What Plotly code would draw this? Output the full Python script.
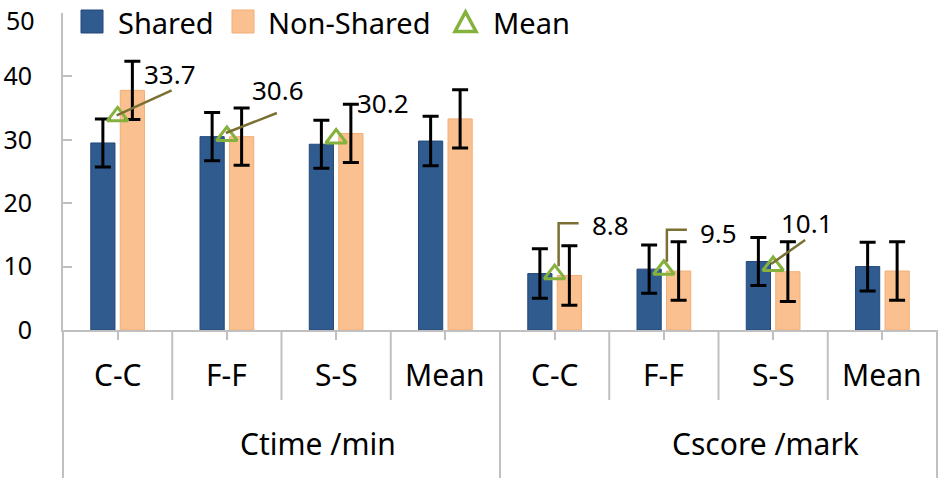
import plotly.graph_objects as go

# ---------------- data ----------------
groups = ["Ctime /min", "Cscore /mark"]
categories = ["C-C", "F-F", "S-S", "Mean", "C-C", "F-F", "S-S", "Mean"]
shared = [29.5, 30.5, 29.3, 29.8, 8.9, 9.6, 10.8, 10.0]
shared_err = [3.8, 3.8, 3.8, 3.9, 3.9, 3.8, 3.8, 3.85]
nonshared = [37.8, 30.5, 31.0, 33.3, 8.6, 9.3, 9.2, 9.3]
nonshared_err = [4.6, 4.5, 4.6, 4.6, 4.7, 4.6, 4.7, 4.6]
mean_vals = [33.7, 30.6, 30.2, None, 8.8, 9.5, 10.1, None]
y_ticks = [0, 10, 20, 30, 40, 50]
legend_names = ["Shared", "Non-Shared", "Mean"]

# ---------------- styling ----------------
W, H = 944, 478
ML, MR, MT, MB = 63, 7, 13, 148
PW = W - ML - MR
PH = H - MT - MB
FONT = "Noto Sans"
BLUE = "#2F5B8F"
BLUE_EDGE = "#24497A"
ORANGE = "#FAC08F"
ORANGE_EDGE = "#F3AE76"
GREEN = "#84B23C"
OLIVE = "#7B7034"
GRAY = "#C0C0C0"


def px_x(px):
    return (px - ML) / PW


def px_y(py):
    return (H - MB - py) / PH


pos = list(range(len(categories)))
n_per_group = len(categories) // len(groups)

# label offsets (pixels) and leader paths (pixel offsets from the mean point, +y up)
label_style = {
    0: dict(dx=52, dy=42, path=[(54, 26), (-1, 1)]),
    1: dict(dx=51, dy=46, path=[(50, 23), (-1, 3)]),
    2: dict(dx=47, dy=36, path=None),
    4: dict(dx=56, dy=49, path=[(4, 8), (4, 51), (24, 51)]),
    5: dict(dx=55, dy=37, path=[(3, 8), (3, 40), (23, 40)]),
    6: dict(dx=34, dy=43, path=[(32, 26), (-2, 2)]),
}

fig = go.Figure()
fig.add_trace(go.Bar(
    x=pos, y=shared, name=legend_names[0],
    marker=dict(color=BLUE, line=dict(color=BLUE_EDGE, width=1)),
    error_y=dict(type="data", array=shared_err, color="black", thickness=3, width=8),
))
fig.add_trace(go.Bar(
    x=pos, y=nonshared, name=legend_names[1],
    marker=dict(color=ORANGE, line=dict(color=ORANGE_EDGE, width=1)),
    error_y=dict(type="data", array=nonshared_err, color="black", thickness=3, width=8),
))
fig.add_trace(go.Scatter(
    x=pos, y=mean_vals, name=legend_names[2], mode="markers",
    marker=dict(symbol="triangle-up-open", size=18, color=GREEN,
                line=dict(width=3, color=GREEN)),
))

shapes = []
annotations = []

# mean value labels and leader lines
for i, v in enumerate(mean_vals):
    if v is None:
        continue
    st = label_style[i]
    annotations.append(dict(
        x=pos[i], y=v, xref="x", yref="y", text=f"{v:.1f}", showarrow=False,
        xshift=st["dx"], yshift=st["dy"], xanchor="center", yanchor="middle",
        font=dict(family=FONT, size=26, color="black"),
    ))
    if st["path"]:
        p = "M " + " L ".join(f"{a},{b}" for a, b in st["path"])
        shapes.append(dict(
            type="path", xref="x", yref="y", xsizemode="pixel", ysizemode="pixel",
            xanchor=pos[i], yanchor=v, path=p, layer="above",
            line=dict(color=OLIVE, width=2.5),
        ))

# category labels
for i, c in enumerate(categories):
    annotations.append(dict(
        x=pos[i], y=px_y(374), xref="x", yref="paper", text=c, showarrow=False,
        xanchor="center", yanchor="middle",
        font=dict(family=FONT, size=30, color="black"),
    ))

# group labels
group_shift = [36, 47]
for g, name in enumerate(groups):
    center = pos[g * n_per_group] + (n_per_group - 1) / 2
    annotations.append(dict(
        x=center, y=px_y(443), xref="x", yref="paper", text=name, showarrow=False,
        xshift=group_shift[g], xanchor="center", yanchor="middle",
        font=dict(family=FONT, size=30, color="black"),
    ))

# dividers in the category axis
for i in range(len(categories) - 1):
    b = pos[i] + 0.5
    is_group = (i + 1) % n_per_group == 0
    shapes.append(dict(
        type="line", xref="x", yref="paper", x0=b, x1=b, y0=0,
        y1=px_y(H) if is_group else px_y(400),
        line=dict(color=GRAY, width=2),
    ))
for xe in (0, 1):
    shapes.append(dict(
        type="line", xref="paper", yref="paper", x0=xe, x1=xe, y0=0, y1=px_y(H),
        line=dict(color=GRAY, width=2),
    ))

# y tick labels: the top one is nudged down inside the figure (as in the reference)
y_ticktext = [str(t) for t in y_ticks]
top_label = y_ticktext[-1]
y_ticktext[-1] = ""
annotations.append(dict(
    x=px_x(37), y=px_y(1), xref="paper", yref="paper", text=top_label,
    showarrow=False, xanchor="right", yanchor="top",
    font=dict(family=FONT, size=25, color="black"),
))

# manual legend
sq_top, sq_bot = 10, 33
shapes.append(dict(type="rect", xref="paper", yref="paper",
                   x0=px_x(81), x1=px_x(103), y0=px_y(sq_bot), y1=px_y(sq_top),
                   fillcolor=BLUE, line=dict(color=BLUE_EDGE, width=1)))
shapes.append(dict(type="rect", xref="paper", yref="paper",
                   x0=px_x(232), x1=px_x(254), y0=px_y(sq_bot), y1=px_y(sq_top),
                   fillcolor=ORANGE, line=dict(color=ORANGE_EDGE, width=1)))
tri = [(455, 31.5), (476, 31.5), (465.5, 12)]
tri_path = "M " + " L ".join(f"{px_x(a)},{px_y(b)}" for a, b in tri) + " Z"
shapes.append(dict(type="path", xref="paper", yref="paper", path=tri_path,
                   line=dict(color=GREEN, width=3.5), fillcolor="rgba(0,0,0,0)"))
for name, left in zip(legend_names, [116, 266, 491]):
    annotations.append(dict(
        x=px_x(left), y=px_y(22), xref="paper", yref="paper", text=name,
        showarrow=False, xanchor="left", yanchor="middle",
        font=dict(family=FONT, size=29, color="black"),
    ))

fig.update_layout(
    width=W, height=H,
    margin=dict(l=ML, r=MR, t=MT, b=MB, pad=0, autoexpand=False),
    paper_bgcolor="white", plot_bgcolor="white",
    barmode="group", bargap=0.46, bargroupgap=0.18,
    showlegend=False,
    shapes=shapes, annotations=annotations,
    font=dict(family=FONT, color="black"),
)
fig.update_xaxes(
    range=[-0.5, len(categories) - 0.5], tickvals=pos, showticklabels=False,
    ticks="outside", ticklen=8, tickwidth=2, tickcolor=GRAY, automargin=False,
    showline=True, linecolor=GRAY, linewidth=2, showgrid=False, zeroline=False,
)
fig.update_yaxes(
    range=[0, 50], tickvals=y_ticks, ticktext=y_ticktext,
    ticks="inside", ticklen=9, tickwidth=2,
    tickcolor=GRAY, showline=True, linecolor=GRAY, linewidth=2, automargin=False,
    showgrid=False, zeroline=False, ticklabelstandoff=24, ticklabeloverflow="allow",
    tickfont=dict(family=FONT, size=25, color="black"),
)

fig.write_html(
    "out.html",
    config={"displayModeBar": False},
    post_script="document.body.style.margin='0';document.body.style.padding='0';",
)
